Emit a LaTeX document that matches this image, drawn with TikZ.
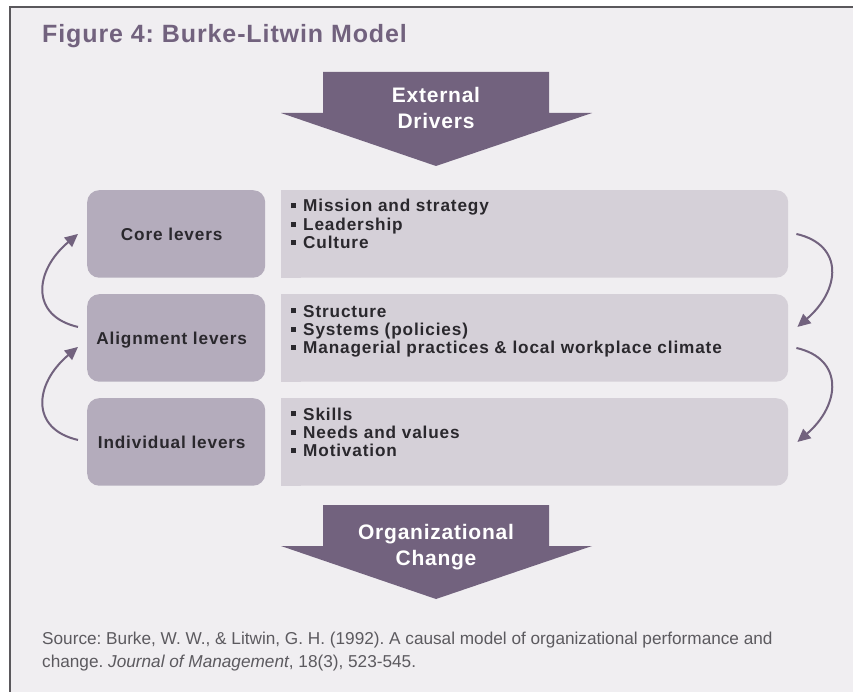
\documentclass[tikz,border=0pt]{standalone}
\usepackage{fontspec}
\usepackage{graphicx}
\setmainfont{Liberation Sans}
\newfontfamily\trk[LetterSpace=5]{Liberation Sans}
\newfontfamily\trkb[LetterSpace=3.6]{Liberation Sans}
\usetikzlibrary{arrows.meta,calc}
\frenchspacing
\definecolor{bgc}{HTML}{F0EEF1}
\definecolor{purp}{HTML}{72627E}
\definecolor{lbox}{HTML}{B4ACBC}
\definecolor{rbox}{HTML}{D5D0D8}
\definecolor{txt}{HTML}{2A282D}
\definecolor{framec}{HTML}{5A585C}
\definecolor{srcc}{HTML}{5C5A5F}
\newcommand\bitem{\rule[3.7pt]{5pt}{5pt}\hspace{7pt}}
\newcommand\blines[3]{\parbox[t]{500pt}{\setlength\baselineskip{18.3pt}\bitem #1\\\bitem #2\\\bitem #3}}
\begin{document}
\frenchspacing
\begin{tikzpicture}[x=1pt,y=-1pt,
  lbx/.style={fill=lbox, rounded corners=12pt, minimum width=178pt, minimum height=87.5pt, inner sep=0, anchor=north west},
  rbx/.style={fill=rbox, rounded corners=12pt, minimum width=507pt, minimum height=87.5pt, inner sep=0, anchor=north west},
  lbl/.style={font=\trk\bfseries\fontsize{17.2}{18}\selectfont, text=txt, anchor=base, inner sep=0},
  lst/.style={font=\trk\bfseries\fontsize{17.2}{18.3}\selectfont, text=txt, anchor=base west, inner sep=0},
  big/.style={font=\trkb\bfseries\fontsize{21}{24}\selectfont, text=white, anchor=base, inner sep=0},
  src/.style={font=\fontsize{17.2}{23}\selectfont, text=srcc, anchor=base west, inner sep=0},
  cyc/.style={draw=purp, line width=2pt, -{Triangle[length=13pt,width=12pt]}}
]
\useasboundingbox (0,0) rectangle (853,692);
\fill[bgc] (10,7) rectangle (853,692);
\draw[framec, line width=1.5pt] (10,692) -- (10,7) -- (853,7);

\node[font=\trkb\bfseries\fontsize{25}{28}\selectfont, text=purp, anchor=base west, inner sep=0] (title) at (42,43) {Figure 4: Burke-Litwin Model};

% top arrow
\fill[purp] (323,72) -- (549,72) -- (549,113) -- (592,113) -- (436,166) -- (281,113) -- (323,113) -- cycle;
\node[big] (ext1) at (436,103) {External};
\node[big] (ext2) at (436,129) {Drivers};

% boxes
\node[lbx] (core) at (87,190) {};
\node[lbx] (alg) at (87,294) {};
\node[lbx] (ind) at (87,398) {};
\node[lbl] (coreL) at ($(core.center)+(-4.5,6.5)$) {Core levers};
\node[lbl] (algL) at ($(alg.center)+(-4.5,6.5)$) {Alignment levers};
\node[lbl] (indL) at ($(ind.center)+(-4.5,6.5)$) {Individual levers};

\node[rbx] (coreR) at (281,190) {};
\node[rbx] (algR) at (281,294) {};
\node[rbx] (indR) at (281,398) {};
\fill[rbox] (coreR.north west) rectangle ($(coreR.south west)+(20,0)$);
\fill[rbox] (algR.north west) rectangle ($(algR.south west)+(20,0)$);
\fill[rbox] (indR.north west) rectangle ($(indR.south west)+(20,0)$);

\node[lst] (coreT) at (291,212) {\blines{Mission and strategy}{Leadership}{Culture}};
\node[lst] (algT) at (291,317) {\blines{Structure}{Systems (policies)}{Managerial practices \& local workplace climate}};
\node[lst] (indT) at (291,420) {\blines{Skills}{Needs and values}{Motivation}};

% cycle arrows
\draw[cyc] ($(alg.west)+(-9,-11)$) .. controls +(-48,-11) and +(-44,37) .. ($(core.west)+(-9,0)$);
\draw[cyc] ($(ind.west)+(-9,-2)$) .. controls +(-48,-11) and +(-44,37) .. ($(alg.west)+(-9,9)$);
\draw[cyc] ($(coreR.east)+(8,0)$) .. controls +(48,11) and +(43,-37) .. ($(algR.east)+(9,-11)$);
\draw[cyc] ($(algR.east)+(8,10)$) .. controls +(48,11) and +(43,-37) .. ($(indR.east)+(9,0)$);

% bottom arrow
\fill[purp] (323,505) -- (549,505) -- (549,546) -- (592,546) -- (436,599) -- (281,546) -- (323,546) -- cycle;
\node[big] (org1) at (436,539) {Organizational};
\node[big] (org2) at (436,565) {Change};

% source
\node[src] (src1) at (42,644) {Source: Burke, W. W., \& Litwin, G. H. (1992). A causal model of organizational performance and};
\node[src] (src2) at (42,667) {change. \textit{Journal of Management}, 18(3), 523-545.};
\end{tikzpicture}
\end{document}
